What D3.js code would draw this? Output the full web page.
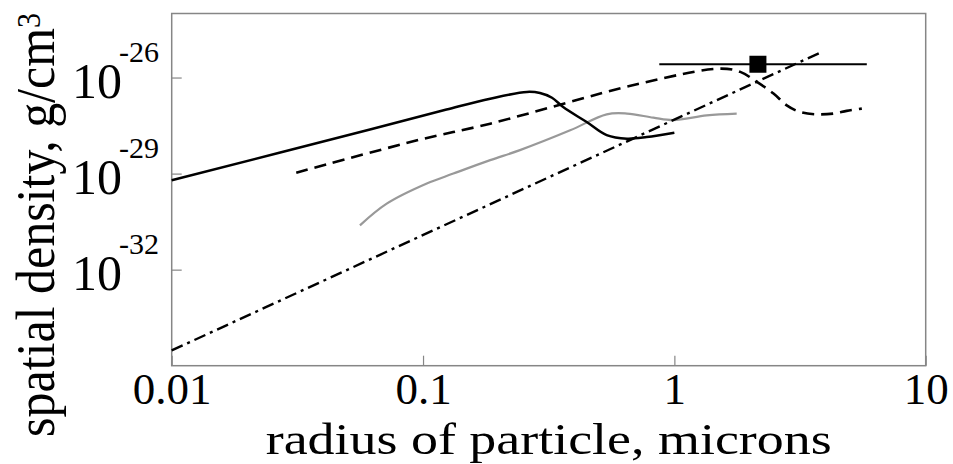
<!DOCTYPE html>
<html>
<head>
<meta charset="utf-8">
<script src="https://cdn.jsdelivr.net/npm/d3@7"></script>
<style>
  html, body { margin: 0; padding: 0; background: #fff; }
  svg { display: block; }
  text { font-family: "Liberation Serif", "Times New Roman", serif; fill: #000; }
</style>
</head>
<body>
<svg id="chart" width="953" height="464"></svg>
<script>
// ---- data ----
const xTickValues = [0.01, 0.1, 1, 10];
const xTickLabels = ["0.01", "0.1", "1", "10"];
const yTickValues = [1e-26, 1e-29, 1e-32];
const yTickExponents = ["-26", "-29", "-32"];

// solid black curve
const solidR = [0.01, 0.0615, 0.124, 0.185, 0.259, 0.292, 0.326, 0.361, 0.448, 0.538, 0.648, 0.776, 1.0];
const solidD = [6.2e-30, 2.37e-28, 1.0e-27, 2.19e-27, 3.55e-27, 3.28e-27, 2.34e-27, 1.2e-27, 4.07e-28, 1.58e-28, 1.23e-28, 1.38e-28, 1.9e-28];

// dashed black curve
const dashedR = [0.0313, 0.0973, 0.185, 0.73, 1.52, 1.83, 2.13, 2.48, 2.80, 3.16, 3.69, 4.30, 4.85, 5.57];
const dashedD = [1.07e-29, 1.15e-28, 3.63e-28, 6.5e-27, 1.9e-26, 1.5e-26, 7.3e-27, 3.16e-27, 1.35e-27, 8.4e-28, 7.1e-28, 7.5e-28, 9.1e-28, 1.07e-27];

// gray curve
const grayR = [0.0561, 0.0717, 0.1035, 0.132, 0.185, 0.243, 0.385, 0.538, 0.648, 0.825, 0.99, 1.345, 1.77];
const grayD = [2.42e-31, 1.15e-30, 4.9e-30, 1.0e-29, 2.63e-29, 5.4e-29, 2.24e-28, 7.1e-28, 7.5e-28, 5.6e-28, 4.7e-28, 6.6e-28, 7.5e-28];

// dash-dot line
const dashDotR = [0.01, 3.86];
const dashDotD = [3.0e-35, 6.3e-26];

// measured point with horizontal range
const pointR = [2.15];
const pointD = [2.6e-26];
const rangeR = [0.871, 5.83];
const rangeD = [2.6e-26, 2.6e-26];

// ---- layout ----
const plot = { left: 171.7, right: 925.7, top: 13.5, bottom: 365.7 };

const svg = d3.select("#chart");

const x = d3.scaleLog().domain([0.01, 10]).range([plot.left, plot.right]);
const y = d3.scaleLog().domain([1e-35, 1e-24]).range([plot.bottom, plot.top]);

const axisColor = "#868686";

// frame
svg.append("rect")
  .attr("x", plot.left).attr("y", plot.top)
  .attr("width", plot.right - plot.left).attr("height", plot.bottom - plot.top)
  .attr("fill", "none").attr("stroke", axisColor).attr("stroke-width", 1.5);

// x axis (inward ticks)
const xAxis = svg.append("g")
  .attr("transform", `translate(0,${plot.bottom})`)
  .call(d3.axisBottom(x).tickValues(xTickValues).tickSize(-10).tickPadding(6.8)
        .tickFormat((d, i) => xTickLabels[i]));
xAxis.select(".domain").remove();
xAxis.selectAll(".tick line").attr("stroke", axisColor).attr("stroke-width", 1.2);
xAxis.selectAll(".tick text")
  .style("font-family", '"Liberation Serif", "Times New Roman", serif')
  .style("font-size", "45px").attr("fill", "#000");

// y axis (inward ticks, custom labels)
const yAxis = svg.append("g")
  .attr("transform", `translate(${plot.left},0)`)
  .call(d3.axisLeft(y).tickValues(yTickValues).tickSize(-10).tickFormat(""));
yAxis.select(".domain").remove();
yAxis.selectAll(".tick line").attr("stroke", axisColor).attr("stroke-width", 1.2);

const yLab = svg.append("g");
yTickValues.forEach((v, i) => {
  const ty = y(v);
  yLab.append("text")
    .attr("x", 72).attr("y", ty + 20)
    .style("font-size", "50px")
    .text("10");
  yLab.append("text")
    .attr("x", 119).attr("y", ty - 16)
    .style("font-size", "30px")
    .text(yTickExponents[i]);
});

// axis titles
svg.append("text")
  .attr("x", (plot.left + plot.right) / 2).attr("y", 454)
  .attr("text-anchor", "middle")
  .attr("textLength", 566).attr("lengthAdjust", "spacingAndGlyphs")
  .style("font-size", "44px")
  .text("radius of particle, microns");

const yt = svg.append("text")
  .attr("transform", "translate(54,437) scale(1.1,1) rotate(-90)")
  .attr("text-anchor", "start")
  .style("font-size", "50px");
yt.append("tspan").text("spatial density, g/cm");
yt.append("tspan").attr("dy", "-0.42em").style("font-size", "30px").text("3");

// ---- series ----
const zip = (rs, ds) => rs.map((r, i) => [r, ds[i]]);
const line = d3.line().x(d => x(d[0])).y(d => y(d[1])).curve(d3.curveCatmullRom.alpha(0.5));
const straight = d3.line().x(d => x(d[0])).y(d => y(d[1]));

const g = svg.append("g").attr("fill", "none");

g.append("path").attr("d", line(zip(grayR, grayD)))
  .attr("stroke", "#999").attr("stroke-width", 2.2);

g.append("path").attr("d", straight(zip(dashDotR, dashDotD)))
  .attr("stroke", "#000").attr("stroke-width", 2.4)
  .attr("stroke-dasharray", "12,5,3,5");

g.append("path").attr("d", line(zip(dashedR, dashedD)))
  .attr("stroke", "#000").attr("stroke-width", 2.6)
  .attr("stroke-dasharray", "12,7");

g.append("path").attr("d", line(zip(solidR, solidD)))
  .attr("stroke", "#000").attr("stroke-width", 2.5);

g.append("path").attr("d", straight(zip(rangeR, rangeD)))
  .attr("stroke", "#000").attr("stroke-width", 2.2);

const sq = 17;
svg.append("g").selectAll("rect")
  .data(zip(pointR, pointD))
  .join("rect")
  .attr("x", d => x(d[0]) - sq / 2)
  .attr("y", d => y(d[1]) - sq / 2)
  .attr("width", sq).attr("height", sq)
  .attr("fill", "#000");
</script>
</body>
</html>
